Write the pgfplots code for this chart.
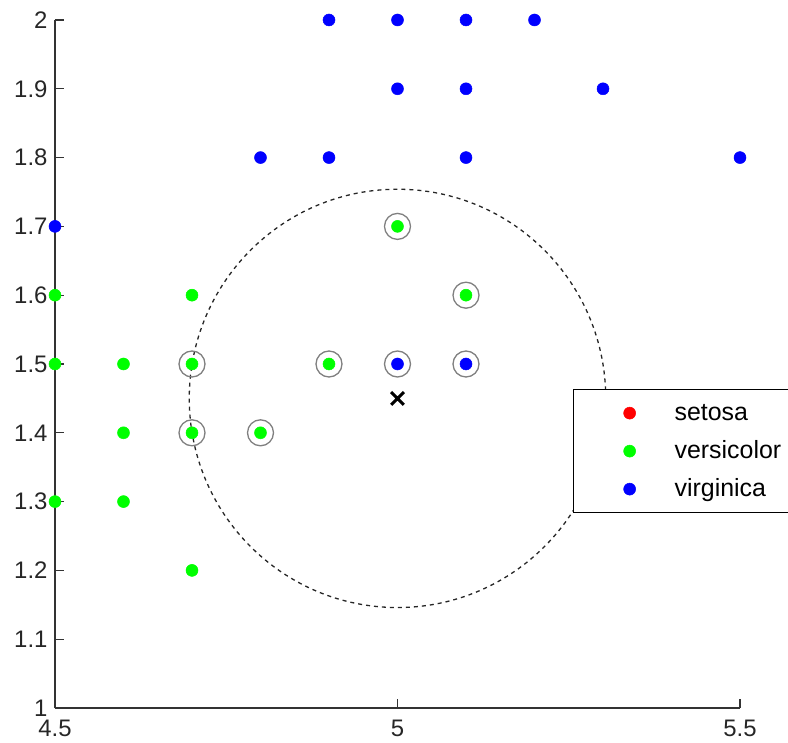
\documentclass[border=0pt]{standalone}
\usepackage{pgfplots}
\pgfplotsset{compat=1.18}
\usepackage{fontspec}
\setmainfont{Liberation Sans}
\begin{document}
\begin{tikzpicture}
\begin{axis}[
 scale only axis, width=685bp, height=688bp,
 xmin=4.5, xmax=5.5, ymin=1, ymax=2,
 axis x line=bottom, axis y line=left,
 axis line style={-, line width=1.3bp, color=black!80},
 xtick={4.5,5,5.5}, ytick={1,1.1,1.2,1.3,1.4,1.5,1.6,1.7,1.8,1.9,2},
 tick align=inside, major tick length=9bp,
 tick style={line width=1.3bp, black!80},
 ticklabel style={font=\fontsize{24}{28}\selectfont, text=black!85},
 xticklabel style={yshift=-9bp},
 yticklabel style={xshift=-4bp},
 /pgf/number format/assume math mode=true,
 clip=false,
 legend style={at={(rel axis cs:0.7562,0.4637)}, anchor=north west, draw=black, line width=1.3bp, fill=white,
   inner xsep=0pt, inner ysep=13bp, font=\fontsize{25}{30}\selectfont, row sep=17bp,
   nodes={inner xsep=1bp, inner ysep=0pt, text height=18bp, text depth=3bp}},
 legend cell align=left,
 legend image code/.code={\path[draw=none,fill=none] (0,0) -- (100bp,0); \draw[#1] plot coordinates {(56bp,0bp)};},
]
\addlegendimage{only marks, mark=*, mark size=6bp, red, mark options={draw=red, fill=red, line width=0.5bp}}
\addlegendentry{setosa\hspace*{40bp}}
\addplot[only marks, mark=*, mark size=6bp, green, mark options={draw=green, fill=green, line width=0.5bp}] coordinates {
 (4.5,1.6) (4.7,1.6) (5.0,1.7) (5.1,1.6) (4.5,1.5) (4.6,1.5) (4.7,1.5) (4.9,1.5)
 (4.6,1.4) (4.7,1.4) (4.8,1.4) (4.5,1.3) (4.6,1.3) (4.7,1.2)};
\addlegendentry{versicolor\hspace*{40bp}}
\addplot[only marks, mark=*, mark size=6bp, blue, mark options={draw=blue, fill=blue, line width=0.5bp}] coordinates {
 (4.9,2.0) (5.0,2.0) (5.1,2.0) (5.2,2.0) (5.0,1.9) (5.1,1.9) (5.3,1.9)
 (4.8,1.8) (4.9,1.8) (5.1,1.8) (5.5,1.8) (4.5,1.7) (5.0,1.5) (5.1,1.5)};
\addlegendentry{virginica\hspace*{40bp}}
\addplot[forget plot, only marks, mark=o, mark size=13bp, mark options={draw=black!50, line width=1.3bp}] coordinates {
 (5.0,1.7) (5.1,1.6) (4.7,1.5) (4.9,1.5) (5.0,1.5) (5.1,1.5) (4.7,1.4) (4.8,1.4)};
\addplot[forget plot, only marks, mark=x, mark size=9bp, mark options={draw=black, line width=3bp}] coordinates {(5.0,1.45)};
\draw[black!85, line width=1.3bp, dash pattern=on 4bp off 4bp] (axis cs:5,1.45) ellipse [x radius=0.304, y radius=0.304];
\coordinate (bl) at (rel axis cs:0,0);
\coordinate (tr) at (rel axis cs:1,1);
\end{axis}
\pgfresetboundingbox
\path[use as bounding box] ([shift={(-55bp,-35bp)}]bl) rectangle ([shift={(48bp,20bp)}]tr);
\end{tikzpicture}
\end{document}
